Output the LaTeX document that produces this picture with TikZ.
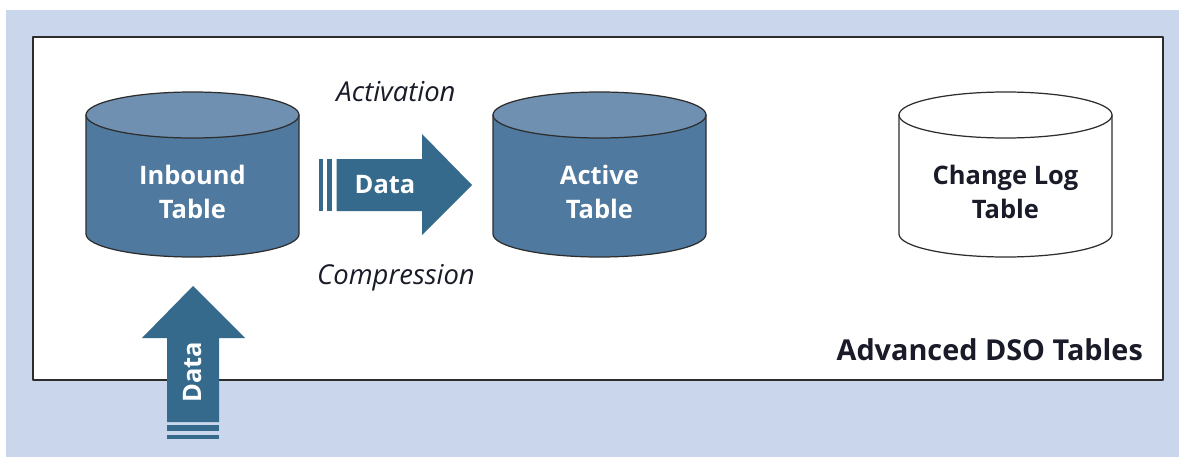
\documentclass[tikz,border=0pt]{standalone}
\usepackage{fontspec}
\setmainfont{Open Sans}
\usetikzlibrary{calc}

\definecolor{bgblue}{RGB}{202,214,236}
\definecolor{cylbody}{RGB}{79,121,158}
\definecolor{cyltop}{RGB}{111,144,176}
\definecolor{arrowblue}{RGB}{54,106,140}
\definecolor{framegray}{RGB}{45,45,45}
\definecolor{inkdark}{RGB}{25,28,40}

% cylinder: centre x, body fill, top fill
\newcommand{\dbcylinder}[3]{%
  \filldraw[fill=#2,draw=framegray,line width=0.7pt] (#1-106.5,342) -- (#1-106.5,223)
    arc[start angle=180,end angle=360,x radius=106.5,y radius=23] -- (#1+106.5,342) -- cycle;
  \filldraw[fill=#3,draw=framegray,line width=0.7pt] (#1,342) ellipse[x radius=106.5,y radius=23];
}

\begin{document}
\begin{tikzpicture}[line cap=round,line join=round,x=0.02cm,y=0.02cm,
  tabletext/.style={align=center,font=\bfseries\fontsize{14.5}{19.8}\selectfont},
  flowtext/.style={font=\itshape\fontsize{15.6}{18}\selectfont,text=inkdark}]
  \useasboundingbox (0,0) rectangle (1179,457);
  \fill[bgblue] (6,0) rectangle (1179,447);
  \filldraw[fill=white,draw=framegray,line width=1.2pt] (33,77) rectangle (1163,420);

  % the three tables
  \dbcylinder{192.5}{cylbody}{cyltop}
  \dbcylinder{599.5}{cylbody}{cyltop}
  \dbcylinder{1005.5}{white}{white}
  \node[tabletext,text=white] (inbound) at (192.5,265) {Inbound\\Table};
  \node[tabletext,text=white] (active) at (599.5,265) {Active\\Table};
  \node[tabletext,text=inkdark] (changelog) at (1005.5,265) {Change Log\\Table};

  % activation arrow
  \fill[arrowblue] (336.5,298) -- (422,298) -- (422,323) -- (472,272) -- (422,222) -- (422,246) -- (336.5,246) -- cycle;
  \foreach \a/\b in {319/322.5,326.5/332}
    \fill[arrowblue] (\a,246) rectangle (\b,298);
  \node[tabletext,text=white] (actdata) at (385,272) {Data};
  \node[flowtext] (activation) at (396,365) {Activation};
  \node[flowtext] (compression) at (396,179) {Compression};

  % incoming data
  \fill[arrowblue] (167,35) -- (167,119) -- (142,119) -- (193,171) -- (245,119) -- (219,119) -- (219,35) -- cycle;
  \foreach \a/\b in {26/32,18/22}
    \fill[arrowblue] (167,\a) rectangle (219,\b);
  \node[tabletext,text=white,rotate=90] (indata) at (193,85) {Data};

  \node[anchor=base east,font=\bfseries\fontsize{16.4}{20}\selectfont,text=inkdark] (dsolabel) at (1149,97) {Advanced DSO Tables};
\end{tikzpicture}
\end{document}
